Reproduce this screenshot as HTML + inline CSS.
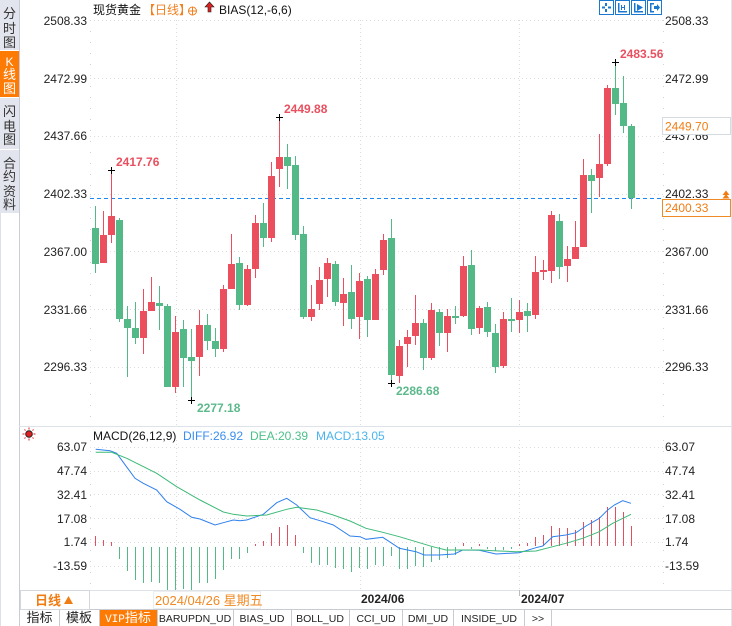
<!DOCTYPE html>
<html><head><meta charset="utf-8"><style>
html,body{margin:0;padding:0;background:#fff;}
svg{display:block;}
text{font-family:"Liberation Sans","Noto Sans CJK SC",sans-serif;}
.m{font-family:"Liberation Mono","Noto Sans CJK SC",monospace;}
</style></head><body>
<svg width="732" height="626" viewBox="0 0 732 626" xmlns="http://www.w3.org/2000/svg">
<rect width="732" height="626" fill="#fff"/>
<!-- sidebar -->
<rect x="0" y="0" width="19" height="213" fill="#e3e5ee"/>
<rect x="0" y="51" width="19" height="46" fill="#fd7b05"/>
<line x1="0" y1="50.5" x2="19" y2="50.5" stroke="#fff"/>
<line x1="0" y1="97.5" x2="19" y2="97.5" stroke="#fff"/>
<line x1="0" y1="149.5" x2="19" y2="149.5" stroke="#fff"/>
<line x1="19.5" y1="0" x2="19.5" y2="626" stroke="#c9ccd6"/>
<line x1="0.5" y1="213" x2="0.5" y2="626" stroke="#dfe1e8"/>
<g font-size="13" fill="#333" text-anchor="middle">
<text x="9.5" y="18">分</text><text x="9.5" y="33">时</text><text x="9.5" y="47">图</text>
<text x="9.5" y="66" fill="#fff" font-size="12">K</text><text x="9.5" y="79" fill="#fff">线</text><text x="9.5" y="93" fill="#fff">图</text>
<text x="9.5" y="116">闪</text><text x="9.5" y="131">电</text><text x="9.5" y="144">图</text>
<text x="9.5" y="168">合</text><text x="9.5" y="181">约</text><text x="9.5" y="196">资</text><text x="9.5" y="209">料</text>
</g>
<!-- header -->
<text x="93" y="14" font-size="12" fill="#111">现货黄金</text>
<text x="143" y="14" font-size="12" fill="#f08020">【日线】</text>
<circle cx="192.5" cy="11" r="4" fill="none" stroke="#f08020"/>
<line x1="188.5" y1="11" x2="196.5" y2="11" stroke="#f08020"/>
<line x1="192.5" y1="7" x2="192.5" y2="15" stroke="#f08020"/>
<polygon points="209.5,2 205,7 208,7 208,12 211,12 211,7 214,7" fill="#e02020" stroke="#222" stroke-width="0.6"/>
<text x="219" y="14" font-size="12" fill="#111">BIAS(12,-6,6)</text>
<!-- toolbar icons -->
<g fill="#fff" stroke="#1b78d0">
<rect x="599.5" y="0.5" width="14" height="14"/><rect x="615.5" y="0.5" width="14" height="14"/><rect x="631.5" y="0.5" width="14" height="14"/><rect x="647.5" y="0.5" width="14" height="14"/>
</g>
<g fill="#1b78d0">
<rect x="605" y="3" width="2" height="3"/><rect x="605" y="9" width="2" height="3"/><rect x="602" y="6.5" width="3" height="2"/><rect x="608" y="6.5" width="3" height="2"/>
<rect x="618" y="3" width="1.5" height="9"/><rect x="618" y="11" width="9" height="1.5"/><rect x="621" y="5" width="1" height="5"/><rect x="624" y="5" width="1" height="5"/><rect x="621" y="7" width="4" height="1"/>
<rect x="634" y="3" width="1.5" height="9"/><rect x="634" y="11" width="9" height="1.5"/><polygon points="637,4 643,7.5 637,11"/>
<rect x="650" y="3" width="1.5" height="9"/><rect x="650" y="11" width="4" height="1.5"/><rect x="650" y="3" width="4" height="1.5"/><polygon points="654,6 657,6 657,4 660,7.5 657,11 657,9 654,9"/>
</g>
<!-- main grid -->
<g stroke="#dcdcdc" stroke-dasharray="1,3">
<line x1="90" y1="20.5" x2="663" y2="20.5"/><line x1="90" y1="78.5" x2="663" y2="78.5"/><line x1="90" y1="136.5" x2="663" y2="136.5"/><line x1="90" y1="194.5" x2="663" y2="194.5"/><line x1="90" y1="251.5" x2="663" y2="251.5"/><line x1="90" y1="309.5" x2="663" y2="309.5"/><line x1="90" y1="367.5" x2="663" y2="367.5"/>
<line x1="176.5" y1="20" x2="176.5" y2="426"/><line x1="360.5" y1="20" x2="360.5" y2="426"/><line x1="519.5" y1="20" x2="519.5" y2="426"/>
<line x1="176.5" y1="440" x2="176.5" y2="590"/><line x1="360.5" y1="440" x2="360.5" y2="590"/><line x1="519.5" y1="440" x2="519.5" y2="590"/>
<line x1="90" y1="447.5" x2="663" y2="447.5"/><line x1="90" y1="471.5" x2="663" y2="471.5"/><line x1="90" y1="494.5" x2="663" y2="494.5"/><line x1="90" y1="518.5" x2="663" y2="518.5"/><line x1="90" y1="542.5" x2="663" y2="542.5"/><line x1="90" y1="566.5" x2="663" y2="566.5"/>
</g>
<g stroke="#cfd3d8" stroke-dasharray="1,10">
<line x1="90.5" y1="20" x2="90.5" y2="426"/><line x1="663.5" y1="20" x2="663.5" y2="426"/>
<line x1="90.5" y1="440" x2="90.5" y2="590"/><line x1="663.5" y1="440" x2="663.5" y2="590"/>
</g>
<line x1="731.5" y1="0" x2="731.5" y2="626" stroke="#e3e6ea"/>
<line x1="19" y1="426.5" x2="732" y2="426.5" stroke="#dde3e8"/>
<line x1="20" y1="590.5" x2="732" y2="590.5" stroke="#dde3e8"/>
<line x1="20" y1="609.5" x2="732" y2="609.5" stroke="#c8ccd2"/>
<!-- axis labels main -->
<g font-size="12" fill="#222" text-anchor="end">
<text x="87" y="25">2508.33</text><text x="87" y="83">2472.99</text><text x="87" y="140">2437.66</text><text x="87" y="198">2402.33</text><text x="87" y="256">2367.00</text><text x="87" y="314">2331.66</text><text x="87" y="371">2296.33</text>
<text x="87" y="451">63.07</text><text x="87" y="475">47.74</text><text x="87" y="499">32.41</text><text x="87" y="523">17.08</text><text x="87" y="546">1.74</text><text x="87" y="570">-13.59</text>
</g>
<g font-size="12" fill="#222">
<text x="665" y="25">2508.33</text><text x="665" y="83">2472.99</text><text x="665" y="140">2437.66</text><text x="665" y="198">2402.33</text><text x="665" y="256">2367.00</text><text x="665" y="314">2331.66</text><text x="665" y="371">2296.33</text>
<text x="665" y="451">63.07</text><text x="665" y="475">47.74</text><text x="665" y="499">32.41</text><text x="665" y="523">17.08</text><text x="665" y="546">1.74</text><text x="665" y="570">-13.59</text>
</g>
<!-- dashed current price line -->
<line x1="90" y1="198.5" x2="662" y2="198.5" stroke="#1a86f0" stroke-dasharray="4,3"/>
<rect x="662.5" y="117.5" width="68" height="17" fill="#fff" stroke="#d6dbe0"/>
<text x="665" y="130.5" font-size="12" fill="#f07d14">2449.70</text>
<rect x="662.5" y="199.5" width="68" height="17" fill="#fff" stroke="#f08a24"/>
<text x="665" y="212" font-size="12" fill="#f07d14">2400.33</text>
<polygon points="722.5,195 726,190.5 729.5,195" fill="#f07d14"/>
<polygon points="722.5,198.5 726,194 729.5,198.5" fill="#f07d14"/>
<!-- candles red -->
<g fill="#eb4f5d">
<rect x="103" y="211" width="1" height="52"/><rect x="100" y="235" width="7" height="28"/>
<rect x="111" y="170" width="1" height="73"/><rect x="108" y="216" width="7" height="19"/>
<rect x="143" y="289" width="1" height="65"/><rect x="140" y="311" width="7" height="27"/>
<rect x="151" y="277" width="1" height="34"/><rect x="148" y="302" width="7" height="9"/>
<rect x="175" y="316" width="1" height="77"/><rect x="172" y="332" width="7" height="55"/>
<rect x="199" y="310" width="1" height="66"/><rect x="196" y="325" width="7" height="32"/>
<rect x="223" y="285" width="1" height="67"/><rect x="220" y="289" width="7" height="60"/>
<rect x="231" y="234" width="1" height="55"/><rect x="228" y="264" width="7" height="25"/>
<rect x="247" y="265" width="1" height="41"/><rect x="244" y="269" width="7" height="36"/>
<rect x="255" y="215" width="1" height="63"/><rect x="252" y="223" width="7" height="46"/>
<rect x="271" y="162" width="1" height="80"/><rect x="268" y="176" width="7" height="62"/>
<rect x="279" y="117" width="1" height="70"/><rect x="276" y="157" width="7" height="12"/>
<rect x="311" y="285" width="1" height="36"/><rect x="308" y="309" width="7" height="8"/>
<rect x="319" y="267" width="1" height="43"/><rect x="316" y="280" width="7" height="24"/>
<rect x="327" y="258" width="1" height="39"/><rect x="324" y="263" width="7" height="16"/>
<rect x="343" y="278" width="1" height="48"/><rect x="340" y="294" width="7" height="9"/>
<rect x="359" y="273" width="1" height="66"/><rect x="356" y="281" width="7" height="36"/>
<rect x="375" y="269" width="1" height="51"/><rect x="372" y="274" width="7" height="46"/>
<rect x="383" y="234" width="1" height="41"/><rect x="380" y="240" width="7" height="30"/>
<rect x="399" y="340" width="1" height="43"/><rect x="396" y="346" width="7" height="30"/>
<rect x="407" y="330" width="1" height="37"/><rect x="404" y="337" width="7" height="7"/>
<rect x="415" y="295" width="1" height="50"/><rect x="412" y="323" width="7" height="13"/>
<rect x="431" y="303" width="1" height="57"/><rect x="428" y="310" width="7" height="48"/>
<rect x="447" y="309" width="1" height="43"/><rect x="444" y="316" width="7" height="17"/>
<rect x="463" y="256" width="1" height="61"/><rect x="460" y="266" width="7" height="50"/>
<rect x="479" y="306" width="1" height="28"/><rect x="476" y="308" width="7" height="20"/>
<rect x="503" y="312" width="1" height="56"/><rect x="500" y="319" width="7" height="47"/>
<rect x="519" y="300" width="1" height="33"/><rect x="516" y="312" width="7" height="8"/>
<rect x="535" y="256" width="1" height="63"/><rect x="532" y="272" width="7" height="43"/>
<rect x="543" y="260" width="1" height="20"/><rect x="540" y="270" width="7" height="2"/>
<rect x="551" y="211" width="1" height="72"/><rect x="548" y="215" width="7" height="56"/>
<rect x="567" y="246" width="1" height="36"/><rect x="564" y="259" width="7" height="7"/>
<rect x="575" y="221" width="1" height="38"/><rect x="572" y="247" width="7" height="12"/>
<rect x="583" y="159" width="1" height="88"/><rect x="580" y="175" width="7" height="72"/>
<rect x="599" y="134" width="1" height="63"/><rect x="596" y="164" width="7" height="14"/>
<rect x="607" y="85" width="1" height="81"/><rect x="604" y="88" width="7" height="76"/>
</g>
<!-- candles green -->
<g fill="#52b987">
<rect x="95" y="206" width="1" height="67"/><rect x="92" y="228" width="7" height="36"/>
<rect x="119" y="218" width="1" height="104"/><rect x="116" y="220" width="7" height="99"/>
<rect x="127" y="306" width="1" height="71"/><rect x="124" y="319" width="7" height="9"/>
<rect x="135" y="302" width="1" height="42"/><rect x="132" y="328" width="7" height="10"/>
<rect x="159" y="286" width="1" height="44"/><rect x="156" y="303" width="7" height="3"/>
<rect x="167" y="304" width="1" height="83"/><rect x="164" y="306" width="7" height="81"/>
<rect x="183" y="320" width="1" height="67"/><rect x="180" y="329" width="7" height="29"/>
<rect x="191" y="329" width="1" height="71"/><rect x="188" y="357" width="7" height="4"/>
<rect x="207" y="314" width="1" height="36"/><rect x="204" y="325" width="7" height="16"/>
<rect x="215" y="328" width="1" height="29"/><rect x="212" y="341" width="7" height="8"/>
<rect x="239" y="257" width="1" height="53"/><rect x="236" y="263" width="7" height="42"/>
<rect x="263" y="203" width="1" height="44"/><rect x="260" y="223" width="7" height="15"/>
<rect x="287" y="144" width="1" height="45"/><rect x="284" y="157" width="7" height="9"/>
<rect x="295" y="156" width="1" height="84"/><rect x="292" y="165" width="7" height="70"/>
<rect x="303" y="226" width="1" height="93"/><rect x="300" y="234" width="7" height="83"/>
<rect x="335" y="261" width="1" height="45"/><rect x="332" y="264" width="7" height="38"/>
<rect x="351" y="265" width="1" height="64"/><rect x="348" y="292" width="7" height="27"/>
<rect x="367" y="276" width="1" height="61"/><rect x="364" y="279" width="7" height="41"/>
<rect x="391" y="219" width="1" height="165"/><rect x="388" y="238" width="7" height="137"/>
<rect x="423" y="319" width="1" height="51"/><rect x="420" y="323" width="7" height="35"/>
<rect x="439" y="309" width="1" height="37"/><rect x="436" y="312" width="7" height="21"/>
<rect x="455" y="306" width="1" height="18"/><rect x="452" y="316" width="7" height="2"/>
<rect x="471" y="250" width="1" height="85"/><rect x="468" y="265" width="7" height="64"/>
<rect x="487" y="302" width="1" height="35"/><rect x="484" y="307" width="7" height="25"/>
<rect x="495" y="324" width="1" height="49"/><rect x="492" y="333" width="7" height="34"/>
<rect x="511" y="298" width="1" height="34"/><rect x="508" y="319" width="7" height="2"/>
<rect x="527" y="303" width="1" height="29"/><rect x="524" y="311" width="7" height="5"/>
<rect x="559" y="214" width="1" height="65"/><rect x="556" y="221" width="7" height="46"/>
<rect x="591" y="169" width="1" height="44"/><rect x="588" y="175" width="7" height="6"/>
<rect x="615" y="62" width="1" height="53"/><rect x="612" y="88" width="7" height="16"/>
<rect x="623" y="76" width="1" height="57"/><rect x="620" y="103" width="7" height="23"/>
<rect x="631" y="124" width="1" height="85"/><rect x="628" y="126" width="7" height="72"/>
</g>
<!-- extreme markers -->
<g stroke="#000" stroke-width="1">
<line x1="108" y1="170.5" x2="115" y2="170.5"/><line x1="111.5" y1="167" x2="111.5" y2="174"/>
<line x1="276" y1="117.5" x2="283" y2="117.5"/><line x1="279.5" y1="114" x2="279.5" y2="121"/>
<line x1="612" y1="62.5" x2="619" y2="62.5"/><line x1="615.5" y1="59" x2="615.5" y2="66"/>
<line x1="188" y1="400.5" x2="195" y2="400.5"/><line x1="191.5" y1="397" x2="191.5" y2="404"/>
<line x1="388" y1="383.5" x2="395" y2="383.5"/><line x1="391.5" y1="380" x2="391.5" y2="387"/>
</g>
<g font-size="12" font-weight="bold">
<text x="116" y="166" fill="#e8505f">2417.76</text>
<text x="284" y="113" fill="#e8505f">2449.88</text>
<text x="620" y="58" fill="#e8505f">2483.56</text>
<text x="197" y="412" fill="#5cb98c">2277.18</text>
<text x="396" y="395" fill="#5cb98c">2286.68</text>
</g>
<!-- MACD header -->
<g stroke="#e02020" stroke-width="1">
<line x1="29" y1="427.5" x2="29" y2="429.5"/><line x1="29" y1="438.5" x2="29" y2="440.5"/>
<line x1="22.5" y1="434" x2="24.5" y2="434"/><line x1="33.5" y1="434" x2="35.5" y2="434"/>
<line x1="24.5" y1="429.5" x2="25.5" y2="430.5"/><line x1="32.5" y1="437.5" x2="33.5" y2="438.5"/>
<line x1="33.5" y1="429.5" x2="32.5" y2="430.5"/><line x1="25.5" y1="437.5" x2="24.5" y2="438.5"/>
</g>
<circle cx="29" cy="434" r="3.3" fill="#e02020" stroke="#222" stroke-width="1"/>
<text x="93" y="440" font-size="12" fill="#111">MACD(26,12,9)</text>
<text x="183" y="440" font-size="12" fill="#3a8ef0">DIFF:26.92</text>
<text x="250" y="440" font-size="12" fill="#4cc08a">DEA:20.39</text>
<text x="316" y="440" font-size="12" fill="#4ab4ee">MACD:13.05</text>
<!-- histogram red -->
<g fill="#e0505f">
<rect x="95" y="536" width="1" height="10"/><rect x="103" y="540" width="1" height="6"/><rect x="111" y="542" width="1" height="4"/>
<rect x="255" y="544" width="1" height="2"/><rect x="263" y="541" width="1" height="5"/><rect x="271" y="533" width="1" height="13"/><rect x="279" y="527" width="1" height="19"/><rect x="287" y="525" width="1" height="21"/><rect x="295" y="535" width="1" height="11"/>
<rect x="463" y="543" width="1" height="3"/><rect x="479" y="544" width="1" height="2"/>
<rect x="519" y="544" width="1" height="2"/><rect x="527" y="543" width="1" height="3"/><rect x="535" y="537" width="1" height="9"/><rect x="543" y="535" width="1" height="11"/><rect x="551" y="526" width="1" height="20"/><rect x="559" y="528" width="1" height="18"/><rect x="567" y="528" width="1" height="18"/><rect x="575" y="530" width="1" height="16"/><rect x="583" y="522" width="1" height="24"/><rect x="591" y="520" width="1" height="26"/><rect x="599" y="517" width="1" height="29"/><rect x="607" y="507" width="1" height="39"/><rect x="615" y="507" width="1" height="39"/><rect x="623" y="512" width="1" height="34"/><rect x="631" y="526" width="1" height="20"/>
</g>
<!-- histogram green -->
<g fill="#52b987">
<rect x="119" y="547" width="1" height="12"/><rect x="127" y="547" width="1" height="24"/><rect x="135" y="547" width="1" height="33"/><rect x="143" y="547" width="1" height="36"/><rect x="151" y="547" width="1" height="35"/><rect x="159" y="547" width="1" height="36"/><rect x="167" y="547" width="1" height="43"/><rect x="175" y="547" width="1" height="43"/><rect x="183" y="547" width="1" height="42"/><rect x="191" y="547" width="1" height="43"/><rect x="199" y="547" width="1" height="36"/><rect x="207" y="547" width="1" height="36"/><rect x="215" y="547" width="1" height="32"/><rect x="223" y="547" width="1" height="23"/><rect x="231" y="547" width="1" height="12"/><rect x="239" y="547" width="1" height="12"/><rect x="247" y="547" width="1" height="6"/>
<rect x="303" y="547" width="1" height="6"/><rect x="311" y="547" width="1" height="16"/><rect x="319" y="547" width="1" height="18"/><rect x="327" y="547" width="1" height="18"/><rect x="335" y="547" width="1" height="21"/><rect x="343" y="547" width="1" height="22"/><rect x="351" y="547" width="1" height="25"/><rect x="359" y="547" width="1" height="21"/><rect x="367" y="547" width="1" height="22"/><rect x="375" y="547" width="1" height="18"/><rect x="383" y="547" width="1" height="19"/><rect x="391" y="547" width="1" height="9"/><rect x="399" y="547" width="1" height="22"/><rect x="407" y="547" width="1" height="22"/><rect x="415" y="547" width="1" height="19"/><rect x="423" y="547" width="1" height="20"/><rect x="431" y="547" width="1" height="15"/><rect x="439" y="547" width="1" height="13"/><rect x="447" y="547" width="1" height="11"/><rect x="455" y="547" width="1" height="8"/>
<rect x="471" y="547" width="1" height="2"/><rect x="487" y="547" width="1" height="2"/><rect x="495" y="547" width="1" height="4"/><rect x="503" y="547" width="1" height="3"/><rect x="511" y="547" width="1" height="2"/>
</g>
<!-- DIFF / DEA -->
<polyline fill="none" stroke="#2f80ed" stroke-width="1" points="95.7,449.3 110,450.7 116.7,453.3 135,478.3 143.3,483.3 156.7,490 166.7,501.7 180,509.3 191.7,517.3 200,519 215,525 223.3,522.7 233.3,520 240,520.7 246.7,520 263.3,514.3 276.7,502.7 286.7,498.3 296.7,505 310,517.7 323.3,521.7 333.3,525 350,536 360,536.7 366,539.3 382.7,537.3 391,542.7 399.3,548.3 416,551.7 424.3,555 439.3,555 454.3,554 462.7,550 479.3,550.3 496,554 519.3,552.7 536,547.7 542.7,546 552.7,536.7 566,535 576,532.7 586,526 599.3,518.3 607.7,510 614.3,505 622.7,500.7 631,503.3"/>
<polyline fill="none" stroke="#3dba78" stroke-width="1" points="95.7,452.3 111.7,452.3 126.7,458.3 156.7,473.3 176.7,486.7 200,500 223.3,512 233.3,514.3 246.7,516 266.7,515 286.7,509.3 296.7,507.3 316.7,510 333.3,515 350,521 366,528.3 382.7,532.3 399.3,536.7 416,541.7 432.7,546.7 446,550 466,550 479.3,550 499.3,551 516,551.7 536,551 552.7,546.7 566,543.3 582.7,538.3 599.3,531.7 612.7,523.3 631,514.3"/>
<!-- date row -->
<rect x="20.5" y="590.5" width="69" height="19" fill="#fff" stroke="#d4d8de"/>
<text x="35" y="605" font-size="13" font-weight="bold" fill="#f07d14">日线</text>
<polygon points="64,604 68.5,596 73,604" fill="#f07d14"/>
<rect x="153.5" y="591.5" width="107" height="17" fill="#fff" stroke="#eceef0"/>
<text x="155" y="605" font-size="13" fill="#f08a24">2024/04/26 星期五</text>
<text x="361" y="603" font-size="12" font-weight="bold" fill="#222">2024/06</text>
<line x1="519.5" y1="590" x2="519.5" y2="596" stroke="#bbb"/>
<text x="521" y="603" font-size="12" font-weight="bold" fill="#222">2024/07</text>
<!-- tabs -->
<rect x="99" y="610" width="58" height="16" fill="#fd7b05"/>
<g stroke="#c8ccd2">
<line x1="59.5" y1="610" x2="59.5" y2="626"/><line x1="99.5" y1="610" x2="99.5" y2="626"/><line x1="157.5" y1="610" x2="157.5" y2="626"/><line x1="233.5" y1="610" x2="233.5" y2="626"/><line x1="291.5" y1="610" x2="291.5" y2="626"/><line x1="349.5" y1="610" x2="349.5" y2="626"/><line x1="402.5" y1="610" x2="402.5" y2="626"/><line x1="453.5" y1="610" x2="453.5" y2="626"/><line x1="524.5" y1="610" x2="524.5" y2="626"/><line x1="551.5" y1="610" x2="551.5" y2="626"/>
</g>
<g font-size="13" fill="#222" text-anchor="middle">
<text x="39.5" y="622">指标</text><text x="79" y="622">模板</text>
<text x="128" y="622" fill="#fff"><tspan class="m" font-size="11">VIP</tspan>指标</text>
</g>
<g class="m" font-size="10.5" fill="#222" text-anchor="middle">
<text x="195" y="622">BARUPDN_UD</text><text x="262" y="622">BIAS_UD</text><text x="320" y="622">BOLL_UD</text><text x="376" y="622">CCI_UD</text><text x="428" y="622">DMI_UD</text><text x="489" y="622">INSIDE_UD</text><text x="538" y="622">&gt;&gt;</text>
</g>
</svg>
</body></html>
